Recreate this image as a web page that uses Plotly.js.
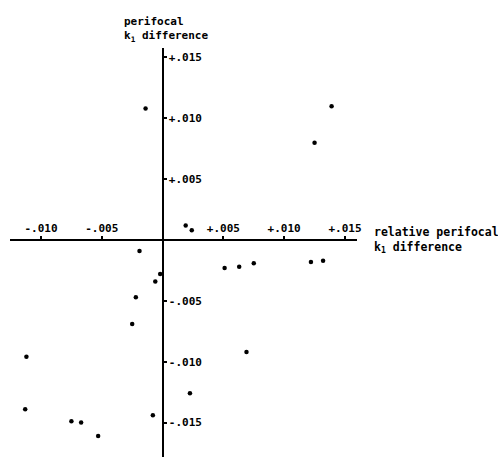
<!DOCTYPE html>
<html>
<head>
<meta charset="utf-8">
<script src="https://cdn.plot.ly/plotly-3.0.1.min.js"></script>
<style>html,body{margin:0;padding:0;background:#fff;}#chart{width:498px;height:457px;}</style>
</head>
<body>
<div id="chart"></div>
<script>
// relative perifocal k1 difference
var xValues = [-0.0014, 0.0139, 0.0125, 0.0019, 0.0024, -0.0019, -0.0002, -0.0006, -0.0022, -0.0025,
               -0.0112, -0.0113, -0.0075, -0.0067, -0.0053, -0.0008, 0.00225, 0.0069, 0.0051, 0.0063,
               0.0075, 0.0122, 0.0132];
// perifocal k1 difference
var yValues = [0.0108, 0.0110, 0.0080, 0.0012, 0.0008, -0.0009, -0.0028, -0.0034, -0.0047, -0.0069,
               -0.0096, -0.0139, -0.0149, -0.0150, -0.0161, -0.0144, -0.0126, -0.0092, -0.0023, -0.0022,
               -0.0019, -0.0018, -0.0017];
var xTickVals = [-0.010, -0.005, 0.005, 0.010, 0.015];
var xTickText = ['-.010', '-.005', '+.005', '+.010', '+.015'];
var yTickVals = [0.015, 0.010, 0.005, -0.005, -0.010, -0.015];
var yTickText = ['+.015', '+.010', '+.005', '-.005', '-.010', '-.015'];
var xTitle = 'relative perifocal<br>k<sub>1</sub> difference';
var yTitle = 'perifocal<br>k<sub>1</sub> difference';

var font = {family: 'DejaVu Sans Mono', size: 11, color: '#000', weight: 'bold'};
var xRange = [-0.01255, 0.01599];
var yRange = [-0.01783, 0.01578];
var xZeroFrac = (0 - xRange[0]) / (xRange[1] - xRange[0]);
var yZeroFrac = (0 - yRange[0]) / (yRange[1] - yRange[0]);

var trace = {
  x: xValues, y: yValues, type: 'scatter', mode: 'markers',
  marker: {color: '#000', size: 4.5}, hoverinfo: 'none', cliponaxis: false
};

var layout = {
  width: 498, height: 457,
  margin: {l: 10, r: 141, t: 48, b: 0, pad: 0},
  paper_bgcolor: '#fff', plot_bgcolor: '#fff',
  showlegend: false,
  font: font,
  xaxis: {
    range: xRange, showgrid: false, zeroline: false,
    anchor: 'free', position: yZeroFrac, side: 'top',
    showline: true, linecolor: '#000', linewidth: 2,
    tickmode: 'array', tickvals: xTickVals, ticktext: xTickText,
    ticks: 'outside', ticklen: 3, tickwidth: 2, tickcolor: '#000',
    tickfont: font, fixedrange: true
  },
  yaxis: {
    range: yRange, showgrid: false, zeroline: false,
    anchor: 'free', position: xZeroFrac, side: 'right',
    showline: true, linecolor: '#000', linewidth: 2,
    tickmode: 'array', tickvals: yTickVals, ticktext: yTickText,
    ticks: 'outside', ticklen: 3, tickwidth: 2, tickcolor: '#000',
    tickfont: font, fixedrange: true
  },
  annotations: [
    {text: yTitle, xref: 'paper', yref: 'paper', x: 0.323, y: 1.085,
     xanchor: 'left', yanchor: 'top', align: 'left', showarrow: false, font: font},
    {text: xTitle, xref: 'paper', yref: 'paper', x: 1.044, y: 0.572,
     xanchor: 'left', yanchor: 'top', align: 'left', showarrow: false,
     font: {family: 'DejaVu Sans Mono', size: 11.5, color: '#000', weight: 'bold'}}
  ]
};

Plotly.newPlot('chart', [trace], layout, {staticPlot: true, displayModeBar: false});
</script>
</body>
</html>
